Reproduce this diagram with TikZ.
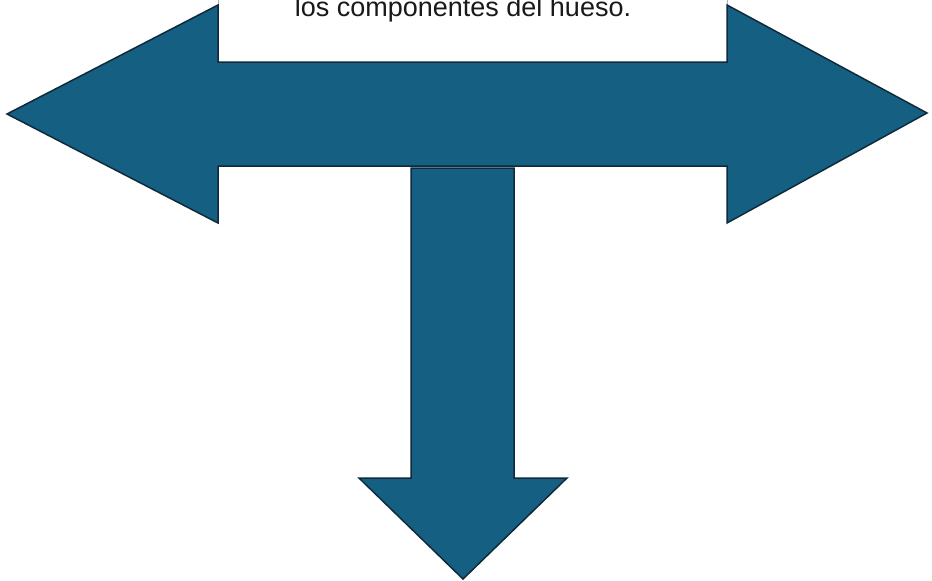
\documentclass[tikz,border=0pt]{standalone}
\usepackage{fontspec}
\setmainfont{Liberation Sans}
\usetikzlibrary{positioning}
\definecolor{flecha}{HTML}{156082}
\definecolor{borde}{HTML}{0E2A3B}

\begin{document}
\begin{tikzpicture}[x=1pt, y=-1pt,
		flechabox/.style={fill=flecha, draw=borde, line width=1.5pt, line join=miter},
		notabox/.style={fill=white, draw=gray!60, line width=0.8pt}]
	\useasboundingbox (0,0) rectangle (932,581);
	\clip (0,0) rectangle (932,581);
	% cuadro de texto (cortado arriba)
	\draw[notabox] (218,-60) rectangle (727,63);
	\node[anchor=base, font=\fontsize{27}{33}\selectfont, text=black!90] (texto) at (463,16.5) {los componentes del hueso.};
	% flecha doble horizontal
	\draw[flechabox] (7,114) -- (218,5) -- (218,62) -- (727,62) -- (727,5) -- (927,113)
		-- (727,223) -- (727,166) -- (218,166) -- (218,223) -- cycle;
	% flecha hacia abajo
	\draw[flechabox] (411,168) -- (514,168) -- (514,478) -- (567,478) -- (463,579)
		-- (359,478) -- (411,478) -- cycle;
\end{tikzpicture}
\end{document}
